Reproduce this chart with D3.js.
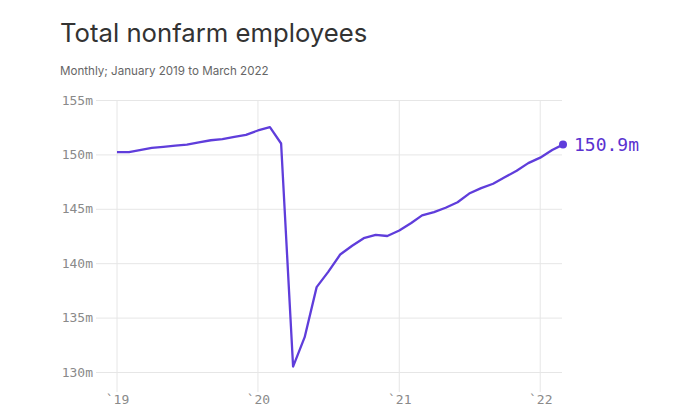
<!DOCTYPE html>
<html>
<head>
<meta charset="utf-8">
<script src="https://cdn.jsdelivr.net/npm/d3@7"></script>
<style>
  html, body { margin: 0; padding: 0; background: #fff; }
  svg { display: block; }
</style>
</head>
<body>
<svg id="chart" width="700" height="420"></svg>
<script>
const months = [
  "2019-01","2019-02","2019-03","2019-04","2019-05","2019-06","2019-07","2019-08","2019-09","2019-10","2019-11","2019-12",
  "2020-01","2020-02","2020-03","2020-04","2020-05","2020-06","2020-07","2020-08","2020-09","2020-10","2020-11","2020-12",
  "2021-01","2021-02","2021-03","2021-04","2021-05","2021-06","2021-07","2021-08","2021-09","2021-10","2021-11","2021-12",
  "2022-01","2022-02","2022-03"
];
const employees = [
  150.2,150.2,150.4,150.6,150.7,150.8,150.9,151.1,151.3,151.4,151.6,151.8,
  152.2,152.5,151.0,130.5,133.2,137.8,139.2,140.8,141.6,142.3,142.6,142.5,
  143.0,143.7,144.4,144.7,145.1,145.6,146.4,146.9,147.3,147.9,148.5,149.2,
  149.7,150.4,150.9
];
const yTicks = [130,135,140,145,150,155];
const xTickYears = ["2019-01","2020-01","2021-01","2022-01"];
const xTickLabels = ["`19","`20","`21","`22"];
const title = "Total nonfarm employees";
const subtitle = "Monthly; January 2019 to March 2022";
const endLabel = "150.9m";

const parse = d3.timeParse("%Y-%m");
const data = months.map((m, i) => ({ date: parse(m), value: employees[i] }));

const svg = d3.select("#chart");
const purple = "#5f3ddb";
const grid = "#e6e6e6";
const mono = "'DejaVu Sans Mono', 'Liberation Mono', monospace";

const x = d3.scaleTime().domain([parse("2019-01"), parse("2022-03")]).range([117, 563]);
const y = d3.scaleLinear().domain([130, 155]).range([372, 100]);

svg.append("text").attr("x", 60).attr("y", 42)
  .attr("font-family", "Inter, 'Open Sans', sans-serif").attr("font-size", 25.7)
  .attr("fill", "#333").text(title);
svg.append("text").attr("x", 60).attr("y", 75)
  .attr("font-family", "Inter, 'Open Sans', sans-serif").attr("font-size", 11.6)
  .attr("fill", "#666").text(subtitle);

// vertical grid
const xTickDates = xTickYears.map(parse);
svg.append("g").selectAll("line").data(xTickDates).join("line")
  .attr("x1", d => x(d)).attr("x2", d => x(d)).attr("y1", 100).attr("y2", 392)
  .attr("stroke", grid);

// y grid and labels
const yAxis = d3.axisLeft(y).tickValues(yTicks).tickSize(-(562 - 96)).tickFormat(d => d + "m").tickPadding(3);
const gy = svg.append("g").attr("transform", "translate(96,0)").call(yAxis);
gy.select(".domain").remove();
gy.selectAll(".tick line").attr("stroke", grid);
gy.selectAll(".tick text").attr("font-family", mono).attr("font-size", 13).attr("fill", "#8a8a8a");

// x labels
const xAxis = d3.axisBottom(x).tickValues(xTickDates).tickSize(0)
  .tickFormat((d, i) => xTickLabels[i]).tickPadding(0);
const gx = svg.append("g").attr("transform", "translate(0,390)").call(xAxis);
gx.select(".domain").remove();
gx.selectAll(".tick text").attr("font-family", mono).attr("font-size", 13).attr("fill", "#8a8a8a").attr("dy", "1.05em");

// line
const line = d3.line().x(d => x(d.date)).y(d => y(d.value));
svg.append("path").datum(data).attr("d", line)
  .attr("fill", "none").attr("stroke", purple).attr("stroke-width", 2.3)
  .attr("stroke-linejoin", "round");

const last = data[data.length - 1];
svg.append("circle").attr("cx", x(last.date)).attr("cy", y(last.value)).attr("r", 4).attr("fill", purple);
svg.append("text").attr("x", x(last.date) + 11).attr("y", y(last.value) + 6)
  .attr("font-family", mono).attr("font-size", 18).attr("fill", "#5a32d0").text(endLabel);
</script>
</body>
</html>
